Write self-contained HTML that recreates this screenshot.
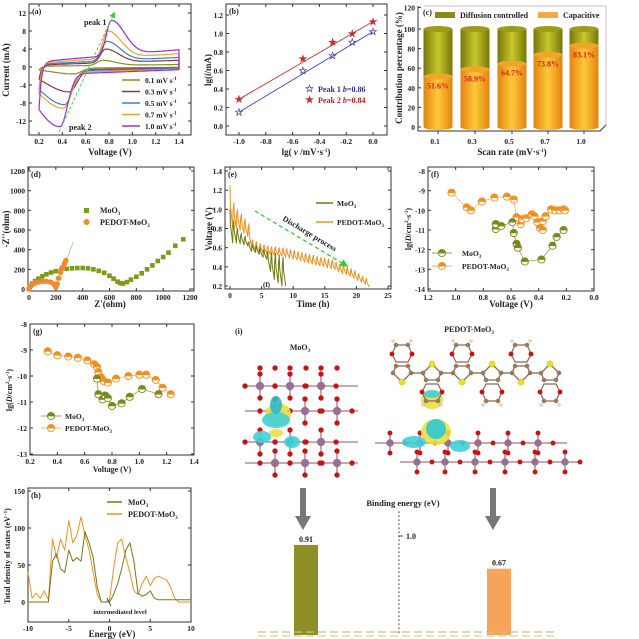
<!DOCTYPE html>
<html><head><meta charset="utf-8"><style>
html,body{margin:0;padding:0;background:#fff}
svg{display:block;font-family:"Liberation Serif",serif;font-weight:bold}
</style></head><body>
<svg id="fig" width="639" height="639" viewBox="0 0 639 639" xmlns="http://www.w3.org/2000/svg">
<defs>
<linearGradient id="gOr" x1="0" x2="1" y1="0" y2="0"><stop offset="0" stop-color="#e08410"/><stop offset="0.5" stop-color="#ffc83a"/><stop offset="1" stop-color="#e08410"/></linearGradient>
<linearGradient id="gOl" x1="0" x2="1" y1="0" y2="0"><stop offset="0" stop-color="#76760c"/><stop offset="0.5" stop-color="#c8c82a"/><stop offset="1" stop-color="#76760c"/></linearGradient>
<marker id="ahG" markerWidth="6" markerHeight="6" refX="5" refY="3" orient="auto"><path d="M0,0 L6,3 L0,6 Z" fill="#33cc33"/></marker>
</defs>
</svg>
<script>
// ---------- data ----------
var cvRates=['0.1','0.3','0.5','0.7','1.0'];
var cvAnodicV=[0.74,0.77,0.78,0.79,0.82];
var cvAnodicI=[1.5,4.0,5.7,8.0,10.3];
var cvCathodicV=[0.50,0.46,0.42,0.41,0.38];
var cvCathodicI=[-1.5,-5.6,-8.5,-9.0,-13.2];
var bLgV=[-1.0,-0.523,-0.301,-0.155,0.0];
var bPeak1=[0.15,0.60,0.76,0.91,1.02];
var bPeak2=[0.29,0.73,0.91,1.00,1.13];
var cRates=['0.1','0.3','0.5','0.7','1.0'];
var cCapacitive=[51.6,58.9,64.7,73.8,83.1];
var dMoZre=[0,10,25,45,70,100,130,165,200,240,280,320,360,400,440,480,520,560,600,630,660,680,700,730,760,800,840,880,920,960,1000,1040,1090,1150];
var dMoZim=[0,30,55,80,105,130,150,168,182,195,205,210,213,213,210,200,185,165,135,105,75,60,55,70,95,125,160,200,240,285,325,370,440,505];
var dPeZre=[0,10,25,45,70,100,130,160,185,200,210,220,235,250,265,275];
var dPeZim=[0,25,45,60,72,78,78,70,50,20,50,110,170,220,260,290];
var eMoPeak=[1.0,0.88,0.8,0.75,0.72,0.66,0.63,0.62,0.6,0.58,0.56,0.55,0.54,0.52,0.5];
var eMoDip=[0.65,0.65,0.64,0.63,0.62,0.56,0.55,0.53,0.5,0.48,0.35,0.27,0.23,0.2,0.2];
var ePePeak=[1.25,1.07,1.0,0.95,0.9,0.85,0.68,0.66,0.64,0.63,0.62,0.61,0.61,0.6,0.6,0.59,0.58,0.57,0.56,0.55,0.54,0.53,0.52,0.51,0.5,0.49,0.48,0.47,0.45,0.43,0.42,0.4,0.38,0.36,0.33,0.3,0.28];
var ePeDip=[0.8,0.8,0.78,0.75,0.72,0.6,0.57,0.55,0.55,0.54,0.53,0.52,0.52,0.51,0.5,0.49,0.48,0.47,0.46,0.45,0.44,0.43,0.42,0.41,0.4,0.39,0.38,0.37,0.35,0.33,0.32,0.3,0.28,0.26,0.24,0.22,0.19];
var ePeriod=0.6;
var fMoV=[0.71,0.71,0.67,0.59,0.58,0.56,0.55,0.5,0.38,0.3,0.27,0.22];
var fMoD=[-10.95,-10.7,-10.8,-10.6,-11.15,-11.7,-11.9,-12.6,-12.5,-11.8,-11.35,-11.0];
var fPeV=[1.03,0.92,0.89,0.81,0.72,0.63,0.58,0.56,0.53,0.52,0.49,0.45,0.43,0.41,0.39,0.37,0.37,0.35,0.31,0.28,0.25,0.22,0.21];
var fPeD=[-9.1,-9.85,-10.0,-9.55,-9.35,-9.3,-9.45,-10.35,-10.7,-10.45,-10.4,-10.2,-10.3,-10.6,-10.9,-11.0,-10.55,-10.3,-9.95,-10.0,-10.0,-9.95,-10.0];
var gPeV=[0.33,0.4,0.48,0.55,0.62,0.67,0.69,0.7,0.72,0.74,0.77,0.83,0.92,1.0,1.05,1.12,1.17,1.23];
var gPeD=[-9.05,-9.2,-9.25,-9.3,-9.4,-9.55,-9.65,-9.85,-10.05,-10.2,-10.25,-10.1,-10.0,-9.95,-9.95,-10.15,-10.45,-10.7];
var gMoV=[0.69,0.7,0.73,0.75,0.77,0.8,0.87,0.93,1.02,1.14];
var gMoD=[-10.1,-10.7,-10.9,-10.75,-10.85,-11.15,-11.05,-10.8,-10.5,-10.7];
var hE=[-10,-9.5,-9,-8.5,-8,-7.5,-7,-6.5,-6,-5.5,-5,-4.5,-4,-3.5,-3,-2.5,-2,-1.5,-1,-0.5,0,0.5,1,1.5,2,2.5,3,3.5,4,4.5,5,5.5,6,6.5,7,7.5,8,8.5,9,9.5,10];
var hMo=[0,0,0,0,0,0,55,65,45,40,70,55,60,55,95,80,60,20,0,0,0,10,25,45,70,80,55,12,8,10,15,5,3,3,3,3,3,3,3,3,3];
var hPe=[40,5,12,5,15,3,85,60,85,70,110,80,90,115,90,70,40,10,0,0,3,45,80,85,60,40,15,10,25,35,22,32,35,32,30,20,5,0,0,0,0];
var iLabels=['MoO3','PEDOT-MoO3'];
var iBinding=[0.91,0.67];

// ---------- helpers ----------
var NS='http://www.w3.org/2000/svg';
var root=document.getElementById('fig');
function mk(tag,attrs,name,parent){
  var e=document.createElementNS(NS,tag);
  for(var k in attrs) e.setAttribute(k,attrs[k]);
  
  
  (parent||root).appendChild(e);
  return e;
}
function tx(x,y,segs,size,name,opt){
  opt=opt||{};
  var a={x:x,y:y,'font-size':size,fill:opt.fill||'#222','text-anchor':opt.anchor||'start'};
  if(opt.rot) a.transform='rotate('+opt.rot+' '+x+' '+y+')';
  var e=mk('text',a,name);
  if(!(segs instanceof Array)) segs=[[String(segs),{}]];
  for(var i=0;i<segs.length;i++){
    var s=segs[i]; if(!(s instanceof Array)) s=[String(s),{}];
    var t=document.createElementNS(NS,'tspan');
    for(var k in s[1]) t.setAttribute(k,s[1][k]);
    t.textContent=s[0];
    e.appendChild(t);
  }
  return e;
}
function sub3(pre){return [[pre,{}],['3',{'font-size':5,dy:2}]];}
function lin(v0,p0,v1,p1){return function(v){return p0+(v-v0)*(p1-p0)/(v1-v0);};}
function axes(c){
  mk('rect',{x:c.x0,y:c.y0,width:c.x1-c.x0,height:c.y1-c.y0,fill:'none',stroke:'#333','stroke-width':1},c.name+'-frame');
  c.xt.forEach(function(v){var x=c.sx(v);
    mk('line',{x1:x,x2:x,y1:c.y1,y2:c.y1-3,stroke:'#333'},c.name+'-x-tick');
    mk('line',{x1:x,x2:x,y1:c.y0,y2:c.y0+3,stroke:'#333'},c.name+'-x-tick-top');
    tx(x,c.y1+9,c.xf?c.xf(v):v,7.5,c.name+'-x-tick-label',{anchor:'middle'});});
  c.yt.forEach(function(v){var y=c.sy(v);
    mk('line',{x1:c.x0,x2:c.x0+3,y1:y,y2:y,stroke:'#333'},c.name+'-y-tick');
    mk('line',{x1:c.x1,x2:c.x1-3,y1:y,y2:y,stroke:'#333'},c.name+'-y-tick-right');
    tx(c.x0-3,y+3,c.yf?c.yf(v):v,7.5,c.name+'-y-tick-label',{anchor:'end'});});
  tx(c.x0+3,c.y0+10,c.label,8,c.name+'-panel-label');
}
function poly(pts,color,w,name,dash){
  var a={points:pts.map(function(p){return p[0].toFixed(1)+','+p[1].toFixed(1);}).join(' '),fill:'none',stroke:color,'stroke-width':w||1,'stroke-linejoin':'round'};
  if(dash) a['stroke-dasharray']=dash;
  return mk('polyline',a,name);
}
function hmark(x,y,color,name){
  var g=mk('g',{},name);
  mk('circle',{cx:x,cy:y,r:3.6,fill:'#fff',stroke:color,'stroke-width':0.9},name+'-ring',g);
  mk('path',{d:'M'+(x-3.6)+','+y+' A3.6,3.6 0 0 1 '+(x+3.6)+','+y+' Z',fill:color},name+'-fill',g);
  mk('line',{x1:x-3.6,x2:x+3.6,y1:y,y2:y,stroke:color,'stroke-width':0.8},name+'-bar',g);
}
function f1(v){return v.toFixed(1);}
var OR='#f0901e';
function safe(fn){try{fn();}catch(err){if(window.console)console.log(err);}}

// ---------- (a) CV ----------
safe(function(){
  var sx=lin(0.2,39,1.4,179), sy=lin(12,13,-12,121);
  axes({x0:29,y0:4,x1:191,y1:135,sx:sx,sy:sy,xt:[0.2,0.4,0.6,0.8,1.0,1.2,1.4],yt:[-12,-8,-4,0,4,8,12],xf:f1,label:'(a)',name:'panel-a'});
  var cols=['#8b8b2a','#8b3a3a','#3a80c8','#f0a030','#9b30d0'];
  cvAnodicI.forEach(function(Ia,k){
    var s=Ia/10.3, Va=cvAnodicV[k], Vc=cvCathodicV[k], Ic=cvCathodicI[k];
    var low=function(V){var d=V-Vc, w=d<0?0.28:0.09; return Ic*0.88*Math.exp(-(d/w)*(d/w))-s*(0.6+1.2*(1.4-V)/1.2);};
    var L0=low(0.2);
    var up=function(V){var d=V-Va, w=d<0?0.06:0.16; return L0*Math.exp(-(V-0.2)/0.02)+s*(1.2+2.2*(V-0.2))*(1-Math.exp(-(V-0.2)/0.03))+(Ia-s*2.5)*Math.exp(-(d/w)*(d/w));};
    var pts=[], V;
    for(V=0.2;V<=1.4001;V+=0.01) pts.push([sx(V),sy(up(V))]);
    for(V=1.4;V>=0.1999;V-=0.01) pts.push([sx(V),sy(low(V))]);
    pts.push(pts[0]);
    poly(pts,cols[k],1.2,'cv-curve-'+cvRates[k]);
    var ly=80+k*11.5;
    mk('line',{x1:122,x2:140,y1:ly,y2:ly,stroke:cols[k],'stroke-width':1.5},'legend-swatch-a');
    tx(145,ly+3,[[cvRates[k]+' mV s',{}],['-1',{'font-size':5,dy:-3}]],7.5,'legend-entry-a');
  });
  mk('line',{x1:sx(cvCathodicV[4])-3,y1:sy(cvCathodicI[4])+10,x2:sx(cvAnodicV[4])+3,y2:sy(cvAnodicI[4])-8,stroke:'#44dd44','stroke-dasharray':'3,2','stroke-width':1,'marker-end':'url(#ahG)'},'peak-shift-arrow');
  tx(84,25,'peak 1',8,'peak1-label');
  tx(69,130,'peak 2',8,'peak2-label');
  tx(110,155,'Voltage (V)',9,'x-axis-title-a',{anchor:'middle'});
  tx(9,70,'Current (mA)',9,'y-axis-title-a',{anchor:'middle',rot:-90});
});

// ---------- (b) ----------
safe(function(){
  var sx=lin(-1,239,0,373), sy=lin(0,126,1.2,15);
  axes({x0:226,y0:4,x1:387,y1:135,sx:sx,sy:sy,xt:[-1.0,-0.8,-0.6,-0.4,-0.2,0.0],yt:[0,0.2,0.4,0.6,0.8,1.0,1.2],xf:f1,yf:f1,label:'(b)',name:'panel-b'});
  [[bPeak1,'#4040b0','☆','peak1'],[bPeak2,'#c83030','★','peak2']].forEach(function(q){
    var ys=q[0],c=q[1],g=q[2],n=q[3];
    poly([[sx(-1),sy(ys[0])],[sx(0),sy(ys[4])]],c,0.9,'fit-line-'+n);
    bLgV.forEach(function(v,i){tx(sx(v),sy(ys[i])+3.5,g,10,'point-'+n,{anchor:'middle',fill:c});});
  });
  tx(305,92,'☆',10,'legend-marker-b1',{fill:'#4040b0'});
  tx(318,92,[['Peak 1 ',{}],['b',{'font-style':'italic'}],['=0.86',{}]],8,'legend-entry-b1',{fill:'#2a2aa8'});
  tx(305,103,'★',10,'legend-marker-b2',{fill:'#c83030'});
  tx(318,103,[['Peak 2 ',{}],['b',{'font-style':'italic'}],['=0.84',{}]],8,'legend-entry-b2',{fill:'#c02020'});
  tx(306,155,[['lg( ',{}],['v',{'font-style':'italic'}],[' /mV·s',{}],['-1',{'font-size':5,dy:-3}],[')',{dy:3}]],9,'x-axis-title-b',{anchor:'middle'});
  tx(211,70,[['lg(',{}],['i',{'font-style':'italic'}],['/mA)',{}]],9,'y-axis-title-b',{anchor:'middle',rot:-90});
});

// ---------- (c) ----------
safe(function(){
  var sy=lin(0,127,100,29), centers=[438,475,512,548,584];
  mk('polyline',{points:'424,6 606,6 606,125',fill:'none',stroke:'#aaa','stroke-width':0.7},'panel-c-back-frame');
  mk('line',{x1:418,x2:418,y1:6,y2:131,stroke:'#333'},'panel-c-y-axis');
  mk('polyline',{points:'418,131 600,131 606,125',fill:'none',stroke:'#333'},'panel-c-x-axis');
  [0,20,40,60,80,100,120].forEach(function(v){var y=sy(v)+(v==120?-2:0);
    mk('line',{x1:418,x2:421,y1:y,y2:y,stroke:'#333'},'panel-c-y-tick');
    tx(415,y+3,v,7.5,'panel-c-y-tick-label',{anchor:'end'});});
  cCapacitive.forEach(function(cap,i){
    var x=centers[i], r=14.5, yb=sy(0), yc=sy(cap), yt=sy(100);
    mk('rect',{x:x-r,y:yc,width:2*r,height:yb-yc,fill:'url(#gOr)'},'bar-capacitive-'+cRates[i]);
    mk('ellipse',{cx:x,cy:yb,rx:r,ry:3,fill:'url(#gOr)'},'bar-capacitive-base');
    mk('rect',{x:x-r,y:yt,width:2*r,height:yc-yt,fill:'url(#gOl)'},'bar-diffusion-'+cRates[i]);
    mk('ellipse',{cx:x,cy:yc,rx:r,ry:3,fill:'#f0a428'},'bar-interface');
    mk('ellipse',{cx:x,cy:yt,rx:r,ry:3,fill:'#9c9c18'},'bar-diffusion-top');
    tx(x,yc+12,cap.toFixed(1)+'%',8,'bar-value-label',{anchor:'middle',fill:'#e02020'});
    mk('line',{x1:x,x2:x,y1:131,y2:134,stroke:'#333'},'panel-c-x-tick');
    tx(x-3,144,cRates[i],7.5,'panel-c-x-tick-label',{anchor:'middle'});
  });
  tx(423,15,'(c)',8,'panel-c-label');
  mk('rect',{x:435,y:12,width:20,height:6,fill:'#8a8a18'},'legend-swatch-diffusion');
  tx(460,18,'Diffusion controlled',8,'legend-entry-diffusion');
  mk('rect',{x:538,y:12,width:20,height:6,fill:'#f7a848'},'legend-swatch-capacitive');
  tx(563,18,'Capacitive',8,'legend-entry-capacitive');
  tx(512,155,[['Scan rate (mV·s',{}],['-1',{'font-size':5,dy:-3}],[')',{dy:3}]],9,'x-axis-title-c',{anchor:'middle'});
  tx(402,68,'Contribution percentage (%)',9,'y-axis-title-c',{anchor:'middle',rot:-90});
});

// ---------- (d) ----------
safe(function(){
  var sx=lin(0,29,1200,190), sy=lin(0,289,1200,171);
  axes({x0:28,y0:167,x1:194,y1:291,sx:sx,sy:sy,xt:[0,200,400,600,800,1000,1200],yt:[0,200,400,600,800,1000,1200],label:'(d)',name:'panel-d'});
  mk('line',{x1:sx(200),y1:sy(0),x2:sx(330),y2:sy(480),stroke:'#88dd88','stroke-width':0.8},'fit-line-d');
  dMoZre.forEach(function(z,i){mk('rect',{x:sx(z)-2.3,y:sy(dMoZim[i])-2.3,width:4.6,height:4.6,fill:'#7a9a18'},'eis-point-moo3');});
  dPeZre.forEach(function(z,i){mk('circle',{cx:sx(z),cy:sy(dPeZim[i]),r:2.8,fill:'#f08a30'},'eis-point-pedot');});
  mk('rect',{x:84,y:208,width:5,height:5,fill:'#7a9a18'},'legend-marker-d1');
  tx(100,213,sub3('MoO'),8,'legend-entry-d1');
  mk('circle',{cx:86.5,cy:222,r:3,fill:'#f08a30'},'legend-marker-d2');
  tx(100,225,sub3('PEDOT-MoO'),8,'legend-entry-d2');
  tx(110,307,"Z'(ohm)",9,'x-axis-title-d',{anchor:'middle'});
  tx(9,229,"-Z''(ohm)",9,'y-axis-title-d',{anchor:'middle',rot:-90});
});

// ---------- (e) ----------
safe(function(){
  var sx=lin(0,230,25,388), sy=lin(1.4,171,0.2,286);
  axes({x0:225,y0:167,x1:391,y1:289,sx:sx,sy:sy,xt:[0,5,10,15,20,25],yt:[0.2,0.4,0.6,0.8,1.0,1.2,1.4],yf:f1,label:'(e)',name:'panel-e'});
  [[ePePeak,ePeDip,OR,'pedot'],[eMoPeak,eMoDip,'#6f7a18','moo3']].forEach(function(q){
    var pk=q[0],dp=q[1],c=q[2],n=q[3],pts=[];
    pk.forEach(function(p,i){var t=i*ePeriod;
      pts.push([sx(t),sy(p)]);
      pts.push([sx(t+0.1*ePeriod),sy(p-(p-dp[i])*0.45)]);
      pts.push([sx(t+0.7*ePeriod),sy(dp[i])]);
      if(i+1<pk.length){pts.push([sx(t+0.78*ePeriod),sy(dp[i]+(pk[i+1]-dp[i])*0.7)]);}
    });
    poly(pts,c,1,'gitt-curve-'+n);
  });
  mk('line',{x1:316,x2:333,y1:203,y2:203,stroke:'#6f7a18','stroke-width':1.5},'legend-swatch-e1');
  tx(337,206,sub3('MoO'),7.5,'legend-entry-e1');
  mk('line',{x1:316,x2:333,y1:222,y2:222,stroke:OR,'stroke-width':1.5},'legend-swatch-e2');
  tx(337,225,sub3('PEDOT-MoO'),7.5,'legend-entry-e2');
  mk('line',{x1:255,y1:211,x2:347,y2:266,stroke:'#33cc33','stroke-width':1.3,'stroke-dasharray':'4,3','marker-end':'url(#ahG)'},'discharge-arrow');
  tx(282,220,'Discharge process',8,'discharge-label',{rot:31});
  tx(263,287,'(f)',7,'panel-e-f-marker');
  tx(313,307,'Time (h)',9,'x-axis-title-e',{anchor:'middle'});
  tx(212,229,'Voltage (V)',9,'y-axis-title-e',{anchor:'middle',rot:-90});
});

function lgDTitle(){return [['lg(',{}],['D',{'font-style':'italic'}],['/cm',{}],['2',{'font-size':5,dy:-3}],['·s',{dy:3}],['-1',{'font-size':5,dy:-3}],[')',{dy:3}]];}

// ---------- (f) ----------
safe(function(){
  var sx=lin(1.2,428,0,594), sy=lin(-8,171,-14,289);
  axes({x0:428,y0:167,x1:594,y1:291,sx:sx,sy:sy,xt:[1.2,1.0,0.8,0.6,0.4,0.2,0.0],yt:[-14,-13,-12,-11,-10,-9,-8],xf:f1,label:'(f)',name:'panel-f'});
  poly(fPeV.map(function(v,i){return [sx(v),sy(fPeD[i])];}),'#f0b070',0.8,'diffusion-line-pedot-f');
  poly(fMoV.map(function(v,i){return [sx(v),sy(fMoD[i])];}),'#99a050',0.8,'diffusion-line-moo3-f');
  fPeV.forEach(function(v,i){hmark(sx(v),sy(fPeD[i]),OR,'point-pedot-f');});
  fMoV.forEach(function(v,i){hmark(sx(v),sy(fMoD[i]),'#7a8a18','point-moo3-f');});
  mk('line',{x1:432,x2:452,y1:253,y2:253,stroke:'#99a050'},'legend-line-f1');
  hmark(442,253,'#7a8a18','legend-marker-f1');
  tx(462,256,sub3('MoO'),7.5,'legend-entry-f1');
  mk('line',{x1:432,x2:452,y1:266,y2:266,stroke:'#f0b070'},'legend-line-f2');
  hmark(442,266,OR,'legend-marker-f2');
  tx(462,269,sub3('PEDOT-MoO'),7.5,'legend-entry-f2');
  tx(511,307,'Voltage (V)',9,'x-axis-title-f',{anchor:'middle'});
  tx(411,229,lgDTitle(),8,'y-axis-title-f',{anchor:'middle',rot:-90});
});

// ---------- (g) ----------
safe(function(){
  var sx=lin(0.2,30,1.4,194), sy=lin(-8,324,-13,454);
  axes({x0:30,y0:324,x1:194,y1:455,sx:sx,sy:sy,xt:[0.2,0.4,0.6,0.8,1.0,1.2,1.4],yt:[-13,-12,-11,-10,-9,-8],xf:f1,label:'(g)',name:'panel-g'});
  poly(gPeV.map(function(v,i){return [sx(v),sy(gPeD[i])];}),'#f0b070',0.8,'diffusion-line-pedot-g');
  poly(gMoV.map(function(v,i){return [sx(v),sy(gMoD[i])];}),'#99a050',0.8,'diffusion-line-moo3-g');
  gPeV.forEach(function(v,i){hmark(sx(v),sy(gPeD[i]),OR,'point-pedot-g');});
  gMoV.forEach(function(v,i){hmark(sx(v),sy(gMoD[i]),'#7a8a18','point-moo3-g');});
  mk('line',{x1:41,x2:61,y1:416,y2:416,stroke:'#99a050'},'legend-line-g1');
  hmark(51,416,'#7a8a18','legend-marker-g1');
  tx(65,419,sub3('MoO'),7.5,'legend-entry-g1');
  mk('line',{x1:41,x2:61,y1:428,y2:428,stroke:'#f0b070'},'legend-line-g2');
  hmark(51,428,OR,'legend-marker-g2');
  tx(65,431,sub3('PEDOT-MoO'),7.5,'legend-entry-g2');
  tx(112,472,'Voltage (V)',8,'x-axis-title-g',{anchor:'middle'});
  tx(12,390,lgDTitle(),8,'y-axis-title-g',{anchor:'middle',rot:-90});
});

// ---------- (h) ----------
safe(function(){
  var sx=lin(-10,28,10,191), sy=lin(0,602,150,491);
  axes({x0:28,y0:488,x1:191,y1:622,sx:sx,sy:sy,xt:[-10,-5,0,5,10],yt:[0,50,100,150],label:'(h)',name:'panel-h'});
  poly(hE.map(function(e,i){return [sx(e),sy(hPe[i])];}),OR,1,'dos-curve-pedot');
  poly(hE.map(function(e,i){return [sx(e),sy(hMo[i])];}),'#6f7a18',1,'dos-curve-moo3');
  mk('line',{x1:107,x2:122,y1:502,y2:502,stroke:'#6f7a18','stroke-width':1.5},'legend-swatch-h1');
  tx(128,505,sub3('MoO'),8,'legend-entry-h1');
  mk('line',{x1:107,x2:122,y1:514,y2:514,stroke:OR,'stroke-width':1.5},'legend-swatch-h2');
  tx(128,517,sub3('PEDOT-MoO'),8,'legend-entry-h2');
  mk('line',{x1:107,y1:598,x2:111,y2:606,stroke:'#222','stroke-width':0.8},'intermediate-arrow');
  tx(120,614,'intermediated level',6.5,'intermediate-label',{anchor:'middle'});
  tx(112,637,'Energy (eV)',9,'x-axis-title-h',{anchor:'middle'});
  tx(10,556,[['Total density of states (eV',{}],['−1',{'font-size':5,dy:-3}],[')',{dy:3}]],8,'y-axis-title-h',{anchor:'middle',rot:-90});
});

// ---------- (i) ----------
safe(function(){
  tx(235,334,'(i)',8,'panel-i-label');
  tx(300,350,sub3('MoO'),8,'structure-title-moo3',{anchor:'middle'});
  tx(469,332,sub3('PEDOT-MoO'),8,'structure-title-pedot',{anchor:'middle'});
  function atom(x,y,r,c,n){return mk('circle',{cx:x,cy:y,r:r,fill:c,stroke:'#444','stroke-opacity':0.3,'stroke-width':0.4},n);}
  function bond(x1,y1,x2,y2,c){return mk('line',{x1:x1,y1:y1,x2:x2,y2:y2,stroke:c||'#b07080','stroke-width':1.3},'bond');}
  function blob(x,y,rx,ry,c,n){return mk('ellipse',{cx:x,cy:y,rx:rx,ry:ry,fill:c,opacity:0.9},n);}
  [[386,[260,290,321]],[411,[275,305,337]],[442,[260,290,321]],[463,[275,305,337]]].forEach(function(q){
    var y=q[0];
    bond(245,y,358,y);
    q[1].forEach(function(x){bond(x,y-12,x,y+12);atom(x,y,4,'#9a7090','mo-atom');atom(x,y-12,2.6,'#d01010','o-atom');atom(x,y+12,2.6,'#d01010','o-atom');atom(x+15,y,2.6,'#d01010','o-atom');atom(x-15,y,2.6,'#d01010','o-atom');});
  });
  [260,275,290,306,321,337].forEach(function(x){atom(x,368,2.6,'#d01010','o-atom');});
  blob(278,414,13,11,'#e8e040','charge-yellow');blob(276,420,14,8,'#40d0d8','charge-cyan');
  blob(276,405,6,9,'#30b8c8','charge-cyan');blob(262,437,9,6,'#40d0d8','charge-cyan');
  blob(292,442,8,6,'#40d0d8','charge-cyan');blob(276,433,7,4,'#e8e040','charge-yellow');
  [[443,375,567,[390,420,448,478,508,538]],[462,400,582,[417,445,475,505,535,565]]].forEach(function(q){
    var y=q[0];
    bond(q[1],y,q[2],y);
    q[3].forEach(function(x){bond(x,y-10,x,y+10);atom(x,y,3.6,'#9a7090','mo-atom');atom(x,y-10,2.4,'#d01010','o-atom');atom(x,y+10,2.4,'#d01010','o-atom');atom(x+15,y,2.4,'#d01010','o-atom');});
  });
  blob(436,432,15,13,'#e8e040','charge-yellow');blob(436,429,10,10,'#30c8d0','charge-cyan');
  blob(414,442,12,6,'#40d0d8','charge-cyan');blob(460,446,10,6,'#40d0d8','charge-cyan');
  blob(432,400,11,9,'#e8e040','charge-yellow');blob(432,394,8,4,'#40d0d8','charge-cyan');
  var units=[[402,1],[432,-1],[462,1],[492,-1],[521,1],[550,-1]];
  units.forEach(function(u,i){
    var x=u[0],d=u[1],y=373;
    var ring=[[x-9,y],[x-6,y-7*d],[x+6,y-7*d],[x+9,y],[x,y+9*d]];
    mk('polygon',{points:ring.map(function(p){return p.join(',');}).join(' '),fill:'none',stroke:'#8a6a50','stroke-width':1.3},'thiophene-ring');
    ring.slice(0,4).forEach(function(p){atom(p[0],p[1],2.2,'#a0785a','c-atom');});
    atom(x,y+9*d,3.2,'#e8e020','s-atom');
    var cy=y-20*d;
    var hex=[[x-6,cy+9*d],[x-10,cy+1*d],[x-6,cy-8*d],[x+6,cy-8*d],[x+10,cy+1*d],[x+6,cy+9*d]];
    mk('polygon',{points:hex.map(function(p){return p.join(',');}).join(' '),fill:'none',stroke:'#8a6a50','stroke-width':1.2},'dioxane-ring');
    atom(x-10,cy+1*d,2.4,'#d01010','o-atom');atom(x+10,cy+1*d,2.4,'#d01010','o-atom');
    atom(x-6,cy-8*d,2.2,'#a0785a','c-atom');atom(x+6,cy-8*d,2.2,'#a0785a','c-atom');
    atom(x-9,cy-12*d,1.5,'#f0d0d0','h-atom');atom(x+9,cy-12*d,1.5,'#f0d0d0','h-atom');
    if(i<units.length-1) bond(x+9,y,units[i+1][0]-9,y,'#8a6a50');
  });
  [303,493].forEach(function(x){
    mk('rect',{x:x-3,y:488,width:6,height:30,fill:'#777'},'down-arrow-shaft');
    mk('polygon',{points:(x-8)+',516 '+(x+8)+',516 '+x+',530',fill:'#777'},'down-arrow-head');
  });
  tx(403,506,'Binding energy (eV)',8.5,'binding-energy-title',{anchor:'middle'});
  var sy=lin(0,635,1,536);
  mk('line',{x1:399,x2:399,y1:sy(1.25),y2:635,stroke:'#222','stroke-width':0.8,'stroke-dasharray':'2,2'},'binding-axis');
  mk('line',{x1:399,x2:403,y1:sy(1.0),y2:sy(1.0),stroke:'#222','stroke-width':0.8},'binding-axis-tick');
  tx(406,sy(1.0)+3,'1.0',8,'binding-axis-tick-label');
  var bx=[306,499], bc=['#8f8f28','#f6a45c'];
  iBinding.forEach(function(v,i){
    mk('rect',{x:bx[i]-12,y:sy(v),width:24,height:635-sy(v),fill:bc[i]},'binding-bar-'+(i?'pedot':'moo3'));
    tx(bx[i],sy(v)-3,v.toFixed(2),8,'binding-bar-value',{anchor:'middle'});
  });
  mk('line',{x1:258,x2:558,y1:632,y2:632,stroke:'#c8c090','stroke-width':1.3,'stroke-dasharray':'8,4'},'baseline-dash-1');
  mk('line',{x1:258,x2:558,y1:636,y2:636,stroke:'#e8c898','stroke-width':1.3,'stroke-dasharray':'8,4'},'baseline-dash-2');
});
</script>
</body></html>
